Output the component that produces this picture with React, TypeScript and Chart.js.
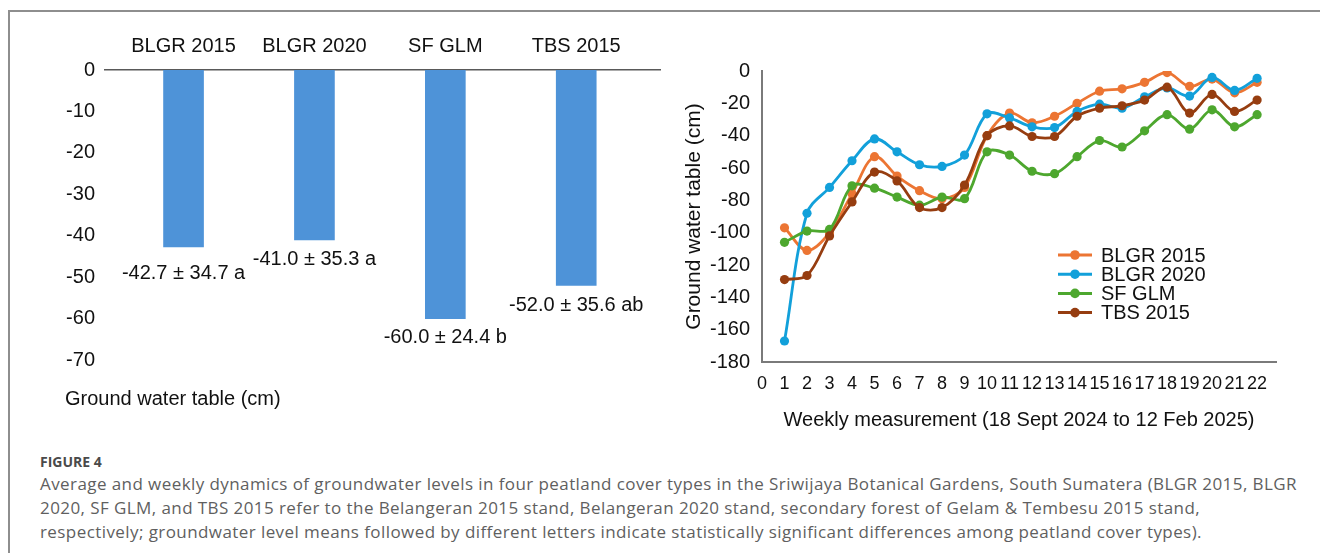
import React, { useEffect, useRef } from 'react';
import { Chart, registerables } from 'chart.js';

Chart.register(...registerables);

// ---------- Left panel: mean ground water table ----------
const barCategories = ['BLGR 2015', 'BLGR 2020', 'SF GLM', 'TBS 2015'];
const barMeans = [-42.7, -41.0, -60.0, -52.0];
const barValueLabels = ['-42.7 ± 34.7 a', '-41.0 ± 35.3 a', '-60.0 ± 24.4 b', '-52.0 ± 35.6 ab'];
const barYTicks = [0, -10, -20, -30, -40, -50, -60, -70];

// ---------- Right panel: weekly dynamics ----------
const weeks = [1, 2, 3, 4, 5, 6, 7, 8, 9, 10, 11, 12, 13, 14, 15, 16, 17, 18, 19, 20, 21, 22];
const seriesNames = ['BLGR 2015', 'BLGR 2020', 'SF GLM', 'TBS 2015'];
const blgr2015 = [-97, -111, -100, -76, -53, -65, -74, -79, -72, -40, -26, -32, -28, -20, -12.5, -11, -7, -1, -9.5, -5, -13.5, -7];
const blgr2020 = [-167, -88, -72, -55.5, -42, -50, -58, -59, -52, -26.5, -29, -34.5, -35, -25, -20.5, -23, -16, -10.5, -15.5, -4, -12, -4.5];
const sfGlm = [-106, -99, -98, -71, -72.5, -78, -83, -78, -79, -50, -52, -62, -63.5, -53, -43, -47, -37, -27, -36, -24, -34.5, -27];
const tbs2015 = [-129, -126.5, -102, -81, -62.5, -68, -84.5, -84.5, -70.5, -40, -34, -40.5, -40.5, -28, -23, -21.5, -18, -10, -26, -14.5, -25, -18];
const seriesValues = [blgr2015, blgr2020, sfGlm, tbs2015];
const seriesColors = ['#EC7533', '#12A0DA', '#4DA72E', '#963D10'];
const xTickValues = [0, 1, 2, 3, 4, 5, 6, 7, 8, 9, 10, 11, 12, 13, 14, 15, 16, 17, 18, 19, 20, 21, 22];
const yTickValues = [0, -20, -40, -60, -80, -100, -120, -140, -160, -180];

const FONT = "'Liberation Sans', Arial, sans-serif";
const TEXT = '#111111';

const barLabelPlugin = {
  id: 'barValueLabels',
  afterDatasetsDraw(chart: any, _args: any, opts: any) {
    const ctx = chart.ctx;
    const meta = chart.getDatasetMeta(0);
    ctx.save();
    ctx.font = `20px ${FONT}`;
    ctx.fillStyle = TEXT;
    ctx.textAlign = 'center';
    ctx.textBaseline = 'middle';
    meta.data.forEach((bar: any, i: number) => {
      const off = (opts.offsets && opts.offsets[i]) || 18;
      ctx.fillText(barValueLabels[i], bar.x, bar.y + off);
    });
    ctx.restore();
  },
};

const lineLegendPlugin = {
  id: 'lineLegend',
  afterDraw(chart: any, _args: any, opts: any) {
    const ctx = chart.ctx;
    const a = chart.chartArea;
    const x0 = a.left + opts.dx;
    const y0 = a.top + opts.dy;
    ctx.save();
    chart.data.datasets.forEach((ds: any, i: number) => {
      const y = y0 + i * opts.rowGap;
      ctx.strokeStyle = ds.borderColor;
      ctx.lineWidth = 3;
      ctx.beginPath();
      ctx.moveTo(x0, y);
      ctx.lineTo(x0 + 34, y);
      ctx.stroke();
      ctx.fillStyle = ds.borderColor;
      ctx.beginPath();
      ctx.arc(x0 + 17, y, 4.8, 0, Math.PI * 2);
      ctx.fill();
      ctx.fillStyle = TEXT;
      ctx.font = `20px ${FONT}`;
      ctx.textAlign = 'left';
      ctx.textBaseline = 'middle';
      ctx.fillText(ds.label, x0 + 43, y + 1);
    });
    ctx.restore();
  },
};

function BarPanel() {
  const ref = useRef<HTMLCanvasElement | null>(null);
  useEffect(() => {
    if (!ref.current) return;
    const chart = new Chart(ref.current, {
      type: 'bar',
      data: {
        datasets: [
          {
            data: barMeans.map((v, i) => ({ x: i + 1, y: v })),
            backgroundColor: '#4E93D8',
            barThickness: 40,
          } as any,
        ],
      },
      options: {
        animation: false,
        responsive: false,
        maintainAspectRatio: false,
        layout: { padding: { left: 65, right: 5, top: 0, bottom: 8 } },
        plugins: {
          legend: { display: false },
          tooltip: { enabled: false },
          title: {
            display: true,
            text: 'Ground water table (cm)',
            position: 'bottom',
            align: 'start',
            color: TEXT,
            font: { family: FONT, size: 20, weight: 'normal' },
            padding: { top: 27, bottom: 1 },
          },
          barValueLabels: { offsets: [27, 19.5, 19, 20] },
        } as any,
        scales: {
          x: {
            type: 'linear',
            position: 'top',
            offset: false,
            min: 0.4,
            max: 4.64,
            afterBuildTicks: (s: any) => {
              s.ticks = barCategories.map((_, i) => ({ value: i + 1 }));
            },
            afterFit: (s: any) => {
              s.height = 50;
            },
            ticks: {
              color: TEXT,
              font: { family: FONT, size: 20 },
              padding: 12,
              maxRotation: 0,
              autoSkip: false,
              callback: (v: any) => barCategories[Math.round(Number(v)) - 1] ?? '',
            },
            grid: { display: false, drawTicks: false },
            border: { display: true, color: '#595959', width: 1.5 },
          } as any,
          y: {
            min: -70,
            max: 0,
            afterBuildTicks: (s: any) => {
              s.ticks = barYTicks.map((v) => ({ value: v }));
            },
            afterFit: (s: any) => {
              s.width = 40;
            },
            ticks: {
              color: TEXT,
              font: { family: FONT, size: 20 },
              padding: 10,
            },
            grid: { display: false, drawTicks: false },
            border: { display: false },
          },
        },
      },
      plugins: [barLabelPlugin],
    });
    return () => chart.destroy();
  }, []);
  return (
    <canvas
      ref={ref}
      width={665}
      height={400}
      style={{ position: 'absolute', left: 0, top: 20, width: 665, height: 400 }}
    />
  );
}

function LinePanel() {
  const ref = useRef<HTMLCanvasElement | null>(null);
  useEffect(() => {
    if (!ref.current) return;
    const chart = new Chart(ref.current, {
      type: 'line',
      data: {
        datasets: seriesNames.map((name, si) => ({
          label: name,
          data: weeks.map((w, i) => ({ x: w, y: seriesValues[si][i] })),
          borderColor: seriesColors[si],
          backgroundColor: seriesColors[si],
          pointBackgroundColor: seriesColors[si],
          pointBorderColor: seriesColors[si],
          pointRadius: 4.6,
          pointBorderWidth: 0,
          borderWidth: 2.8,
          tension: 0.35,
          fill: false,
          order: seriesNames.length - si,
        })),
      },
      options: {
        animation: false,
        responsive: false,
        maintainAspectRatio: false,
        layout: { autoPadding: false, padding: { left: 0, right: 44, top: 0, bottom: 0 } },
        plugins: {
          legend: { display: false },
          tooltip: { enabled: false },
          lineLegend: { dx: 296, dy: 184, rowGap: 19.2 },
        } as any,
        scales: {
          x: {
            type: 'linear',
            min: 0,
            max: 22.84,
            afterBuildTicks: (s: any) => {
              s.ticks = xTickValues.map((v) => ({ value: v }));
            },
            afterFit: (s: any) => {
              s.height = 85;
            },
            ticks: {
              color: TEXT,
              font: { family: FONT, size: 18 },
              padding: 11,
              maxRotation: 0,
              autoSkip: false,
            },
            grid: { display: false, drawTicks: false },
            border: { display: true, color: '#7a7a7a', width: 2 },
            title: {
              display: true,
              text: 'Weekly measurement (18 Sept 2024 to 12 Feb 2025)',
              color: TEXT,
              font: { family: FONT, size: 20 },
              padding: { top: 0, bottom: 15 },
            },
          },
          y: {
            min: -180,
            max: 0,
            afterBuildTicks: (s: any) => {
              s.ticks = yTickValues.map((v) => ({ value: v }));
            },
            afterFit: (s: any) => {
              s.width = 92;
            },
            ticks: {
              color: TEXT,
              font: { family: FONT, size: 20 },
              padding: 12,
            },
            grid: { display: false, drawTicks: false },
            border: { display: true, color: '#7a7a7a', width: 2 },
            title: {
              display: true,
              text: 'Ground water table (cm)',
              color: TEXT,
              font: { family: FONT, size: 21 },
              padding: { top: 12, bottom: 0 },
            },
          },
        },
      },
      plugins: [lineLegendPlugin],
    });
    return () => chart.destroy();
  }, []);
  return (
    <canvas
      ref={ref}
      width={650}
      height={400}
      style={{ position: 'absolute', left: 670, top: 47, width: 650, height: 400 }}
    />
  );
}

const captionLines = [
  'Average and weekly dynamics of groundwater levels in four peatland cover types in the Sriwijaya Botanical Gardens, South Sumatera (BLGR 2015, BLGR',
  '2020, SF GLM, and TBS 2015 refer to the Belangeran 2015 stand, Belangeran 2020 stand, secondary forest of Gelam & Tembesu 2015 stand,',
  'respectively; groundwater level means followed by different letters indicate statistically significant differences among peatland cover types).',
];

export default function App() {
  return (
    <div
      style={{
        position: 'absolute',
        left: 0,
        top: 0,
        width: 1320,
        height: 553,
        background: '#ffffff',
        overflow: 'hidden',
      }}
    >
      <div
        style={{
          position: 'absolute',
          left: 8,
          top: 10,
          width: 1400,
          height: 600,
          borderTop: '2px solid #8e8e8e',
          borderLeft: '2px solid #8e8e8e',
          boxSizing: 'border-box',
        }}
      />
      <BarPanel />
      <LinePanel />
      <div
        style={{
          position: 'absolute',
          left: 40,
          top: 452,
          fontFamily: "'Open Sans', sans-serif",
          fontWeight: 700,
          fontSize: 14,
          lineHeight: '20px',
          color: '#4a4a4a',
          whiteSpace: 'nowrap',
        }}
      >
        FIGURE 4
      </div>
      <div
        style={{
          position: 'absolute',
          left: 40,
          top: 472,
          fontFamily: "'Open Sans', sans-serif",
          fontSize: 17,
          letterSpacing: '0.42px',
          lineHeight: '23.8px',
          color: '#5f5f5f',
          whiteSpace: 'nowrap',
        }}
      >
        {captionLines.map((l, i) => (
          <div key={i}>{l}</div>
        ))}
      </div>
    </div>
  );
}
